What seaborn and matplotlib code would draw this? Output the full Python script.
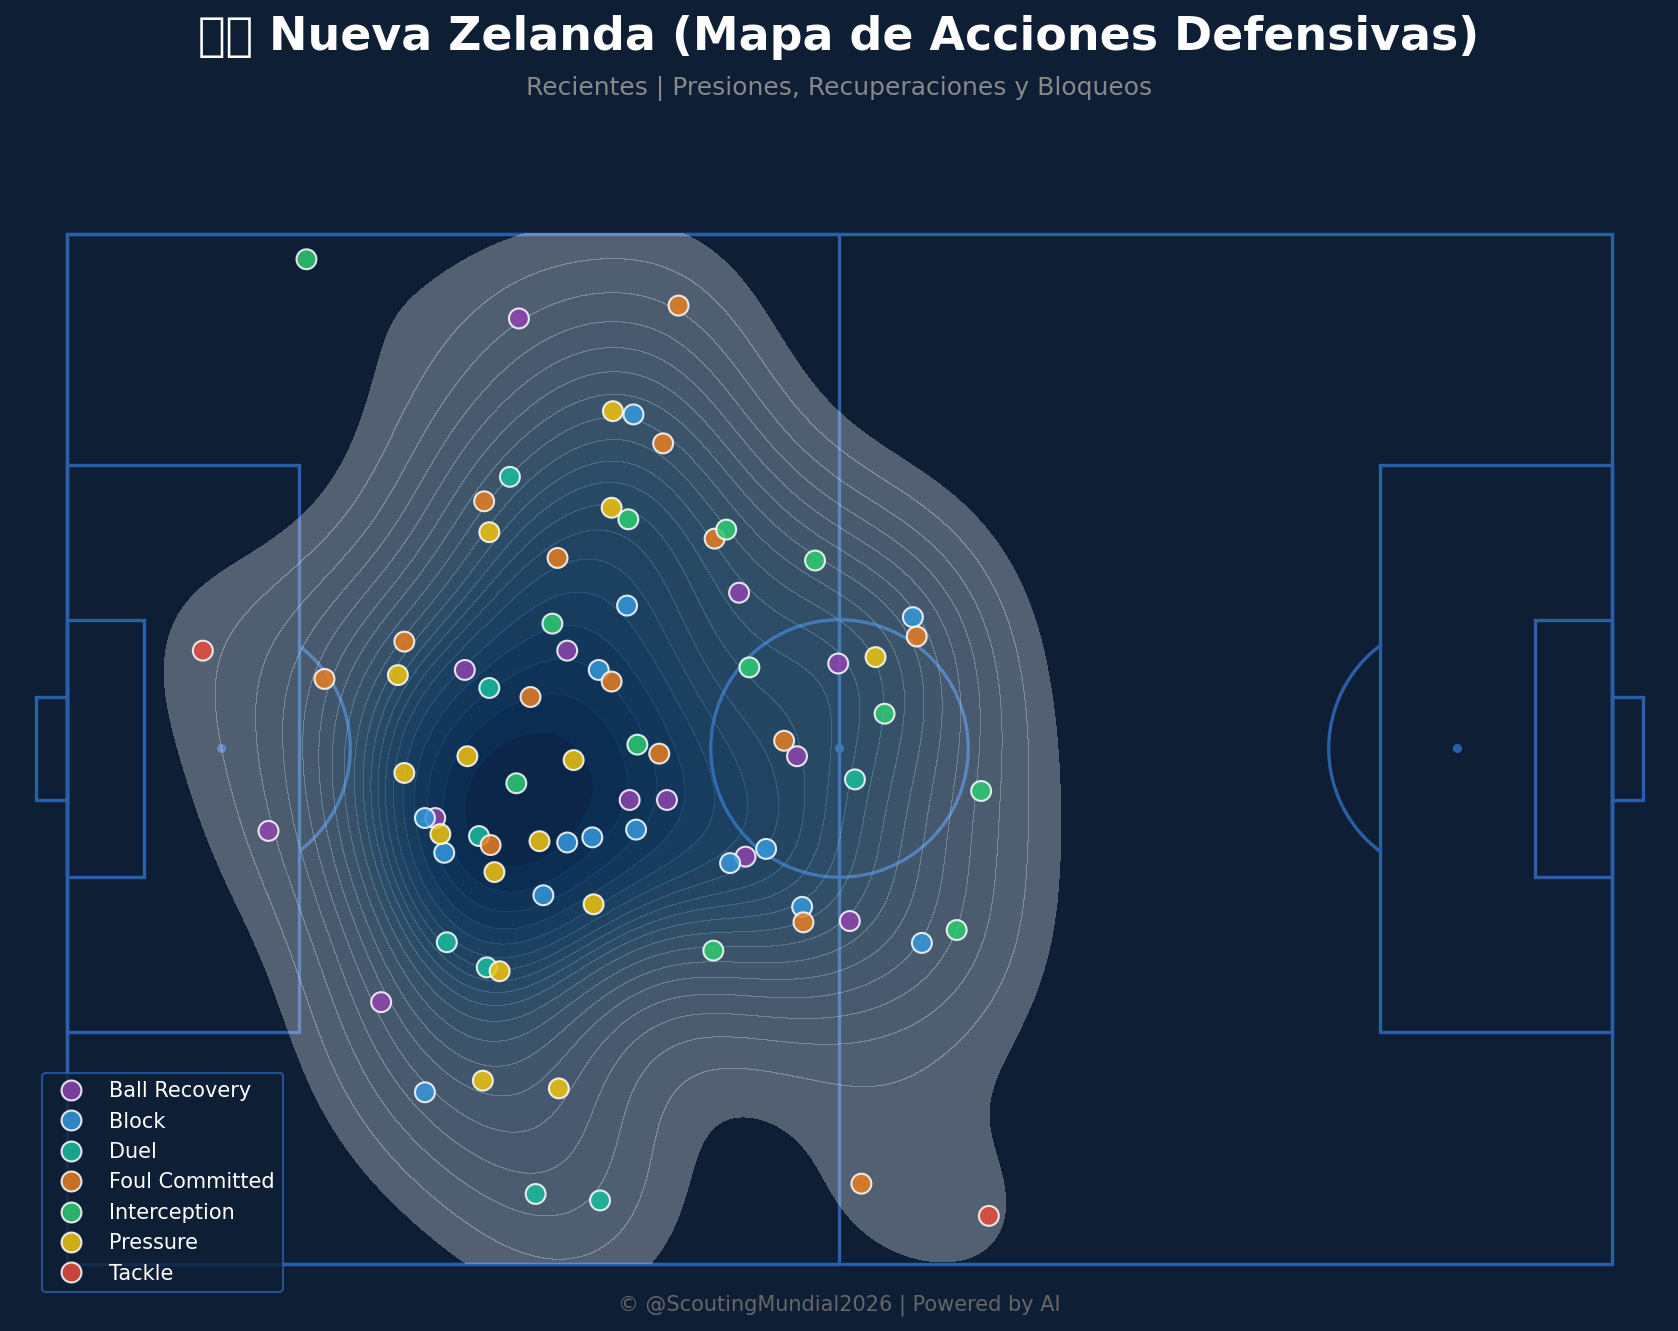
import warnings
import logging
import pandas as pd
import seaborn as sns
import matplotlib.pyplot as plt
from matplotlib.patches import Rectangle, Circle, Arc

logging.getLogger("matplotlib.font_manager").setLevel(logging.ERROR)
warnings.filterwarnings("ignore")

BG = "#0e1f35"
LINE = "#2a5ea8"

# Action locations in pitch units (120 x 80, y grows downwards)
ball_recovery_x = [35.1, 15.65, 28.6, 30.9, 38.85, 43.7, 46.6, 52.2, 56.7, 59.9, 52.7, 60.8, 24.4]
ball_recovery_y = [6.6, 46.4, 45.4, 33.9, 32.4, 44.0, 44.0, 27.9, 40.6, 33.4, 48.4, 53.4, 59.7]
block_x = [44.0, 43.5, 41.3, 65.7, 27.8, 29.3, 38.85, 40.8, 44.2, 51.5, 54.3, 37.0, 57.1, 66.4, 27.8]
block_y = [14.05, 28.9, 33.9, 29.8, 45.4, 48.1, 47.3, 46.9, 46.3, 48.9, 47.8, 51.4, 52.3, 55.1, 66.7]
duel_x = [34.4, 32.8, 32.0, 61.2, 29.5, 32.6, 36.4, 41.4]
duel_y = [18.9, 35.3, 46.8, 42.4, 55.05, 57.0, 74.6, 75.1]
foul_x = [47.5, 46.3, 32.4, 50.3, 38.1, 26.2, 20.0, 42.3, 36.0, 66.0, 55.7, 46.0, 32.9, 57.2, 61.7]
foul_y = [5.6, 16.3, 20.8, 23.7, 25.2, 31.7, 34.6, 34.8, 36.0, 31.3, 39.4, 40.4, 47.5, 53.5, 73.8]
interception_x = [18.6, 43.6, 51.2, 58.1, 37.7, 53.0, 63.5, 44.3, 34.9, 71.0, 69.1, 50.2]
interception_y = [2.0, 22.2, 23.0, 25.4, 30.3, 33.7, 37.3, 39.7, 42.7, 43.3, 54.1, 55.7]
pressure_x = [42.4, 42.3, 32.8, 62.8, 25.7, 31.1, 39.35, 26.2, 29.0, 36.7, 33.2, 40.9, 33.6, 32.3, 38.2]
pressure_y = [13.8, 21.3, 23.2, 32.9, 34.3, 40.6, 40.9, 41.9, 46.65, 47.2, 49.6, 52.1, 57.3, 65.8, 66.4]
tackle_x = [10.55, 71.6]
tackle_y = [32.4, 76.3]

action_names = ["Ball Recovery", "Block", "Duel", "Foul Committed", "Interception", "Pressure", "Tackle"]
action_colors = ["#8e44ad", "#3498db", "#1abc9c", "#e67e22", "#2ecc71", "#f1c40f", "#e74c3c"]
action_xs = [ball_recovery_x, block_x, duel_x, foul_x, interception_x, pressure_x, tackle_x]
action_ys = [ball_recovery_y, block_y, duel_y, foul_y, interception_y, pressure_y, tackle_y]

events = pd.concat(
    [pd.DataFrame({"x": xs, "y": ys, "type": name})
     for name, xs, ys in zip(action_names, action_xs, action_ys)],
    ignore_index=True,
)

W, H = 1678, 1331
fig = plt.figure(figsize=(W / 100, H / 100), dpi=100, facecolor=BG)
ax = fig.add_axes([0, 0, 1, 1])
ax.set_facecolor(BG)
scale = (1612.0 - 67.0) / 120
ax.set_xlim(-67.0 / scale, (W - 67.0) / scale)
ax.set_ylim((H - 233.5) / scale, -233.5 / scale)
ax.axis("off")


def draw_pitch(axis):
    """StatsBomb-proportioned pitch outline, drawn beneath the density layer."""
    lw = 2.4
    style = dict(fill=False, edgecolor=LINE, linewidth=lw, zorder=1)
    rects = [
        (0, 0, 120, 80), (0, 0, 60, 80),
        (0, 18, 18, 44), (102, 18, 18, 44),
        (0, 30, 6, 20), (114, 30, 6, 20),
        (-2.4, 36, 2.4, 8), (120, 36, 2.4, 8),
    ]
    for x0, y0, w, h in rects:
        axis.add_patch(Rectangle((x0, y0), w, h, **style))
    axis.add_patch(Circle((60, 40), 10, **style))
    axis.add_patch(Arc((12, 40), 20, 20, theta1=-53.13, theta2=53.13, color=LINE, lw=lw, zorder=1))
    axis.add_patch(Arc((108, 40), 20, 20, theta1=126.87, theta2=233.13, color=LINE, lw=lw, zorder=1))
    for sx in (12, 60, 108):
        axis.add_patch(Circle((sx, 40), 0.3, color=LINE, zorder=1))


draw_pitch(ax)

sns.kdeplot(
    data=events, x="x", y="y", fill=True, cmap="Blues", alpha=0.3,
    levels=20, thresh=0.05, clip=((0, 120), (0, 80)), ax=ax, zorder=2,
    linewidths=0.5,
)

sns.scatterplot(
    data=events, x="x", y="y", hue="type", hue_order=action_names,
    palette=dict(zip(action_names, action_colors)), s=205, alpha=0.85,
    edgecolor="white", linewidth=1.5, ax=ax, zorder=3, legend=True,
)
ax.set_xlabel("")
ax.set_ylabel("")

handles, labels = ax.get_legend_handles_labels()
leg = ax.legend(
    handles, labels, loc="lower left", bbox_to_anchor=(41.5 / W, (H - 1292) / H),
    bbox_transform=fig.transFigure, borderaxespad=0, fontsize=15,
    facecolor=BG, edgecolor=LINE, labelcolor="white", framealpha=0.8,
    labelspacing=0.5, handletextpad=0.85,
)
leg.get_frame().set_linewidth(1.5)

fig.text(0.5, 1 - 37.5 / H, "\U0001F1F3\U0001F1FF Nueva Zelanda (Mapa de Acciones Defensivas)",
         ha="center", va="center", color="white", fontsize=33, fontweight="bold")
fig.text(0.5, 1 - 88.5 / H, "Recientes | Presiones, Recuperaciones y Bloqueos",
         ha="center", va="center", color="#888888", fontsize=18)
fig.text(0.5, 1 - 1305 / H, "© @ScoutingMundial2026 | Powered by AI",
         ha="center", va="center", color="#666666", fontsize=15)

fig.savefig("out.png", dpi=100, facecolor=BG)
